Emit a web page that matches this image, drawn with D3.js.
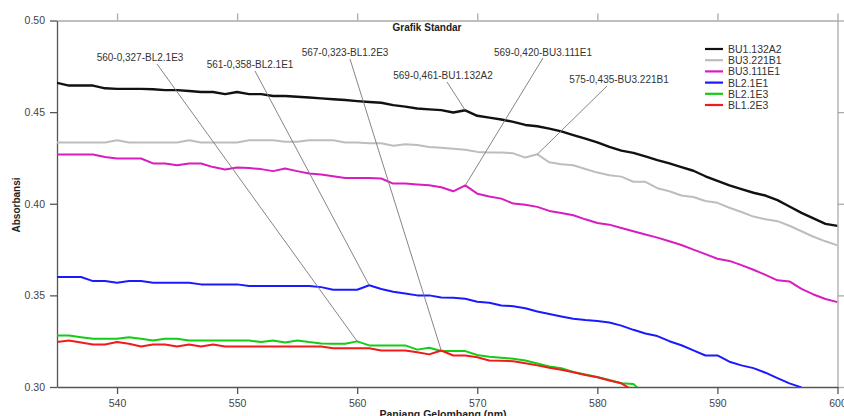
<!DOCTYPE html>
<html>
<head>
<meta charset="utf-8">
<script src="https://cdn.jsdelivr.net/npm/d3@7"></script>
<style>
  body { margin: 0; background: #fff; }
  svg { font-family: "Liberation Sans", Arial, sans-serif; }
</style>
</head>
<body>
<svg width="844" height="416"></svg>
<script>
// wavelength (nm), one value per nm
var wavelengths = d3.range(535, 601);

var bu1_132A2 = [0.466, 0.4645, 0.4645, 0.4645, 0.463, 0.4627, 0.4627, 0.4627, 0.4625, 0.462,
  0.462, 0.4615, 0.461, 0.461, 0.4598, 0.461, 0.4598, 0.4598, 0.4588, 0.4588,
  0.4584, 0.458, 0.4575, 0.457, 0.4566, 0.456, 0.4555, 0.4551, 0.4538, 0.453,
  0.452, 0.4515, 0.4511, 0.4498, 0.451, 0.448, 0.447, 0.446, 0.4447, 0.443,
  0.4423, 0.441, 0.4395, 0.4375, 0.4355, 0.4335, 0.431, 0.429, 0.4278, 0.4258,
  0.4238, 0.422, 0.42, 0.418, 0.415, 0.4125, 0.41, 0.408, 0.406, 0.4045,
  0.402, 0.3985, 0.395, 0.392, 0.389, 0.3879];

var bu3_221B1 = [0.4334, 0.4334, 0.4334, 0.4334, 0.4334, 0.4347, 0.4334, 0.4334, 0.4334, 0.4334,
  0.4334, 0.4347, 0.4334, 0.4334, 0.4334, 0.4334, 0.4347, 0.4347, 0.4347, 0.4338,
  0.4338, 0.4347, 0.4347, 0.4347, 0.4334, 0.4334, 0.433, 0.433, 0.4316, 0.4325,
  0.432, 0.431, 0.4305, 0.43, 0.4295, 0.4283, 0.428, 0.428, 0.4275, 0.4252,
  0.427, 0.4226, 0.4215, 0.421, 0.419, 0.417, 0.4155, 0.4148, 0.412, 0.412,
  0.4085, 0.4068, 0.4045, 0.4037, 0.4015, 0.4005, 0.3978, 0.3955, 0.393, 0.3915,
  0.3905, 0.388, 0.385, 0.382, 0.3795, 0.3773];

var bu3_111E1 = [0.4269, 0.4269, 0.4269, 0.4269, 0.4255, 0.4247, 0.4247, 0.4247, 0.422, 0.422,
  0.421, 0.422, 0.422, 0.42, 0.4187, 0.4198, 0.4195, 0.4189, 0.4178, 0.4192,
  0.4178, 0.4165, 0.416, 0.415, 0.4141, 0.4141, 0.4141, 0.4138, 0.411, 0.411,
  0.4105, 0.4101, 0.409, 0.4068, 0.41, 0.4055, 0.404, 0.4028, 0.4001, 0.3995,
  0.3983, 0.3961, 0.395, 0.3937, 0.3915, 0.3895, 0.3886, 0.3868, 0.385, 0.3832,
  0.3815, 0.3795, 0.3775, 0.375, 0.3725, 0.37, 0.3688, 0.3665, 0.364, 0.3612,
  0.3582, 0.3576, 0.3535, 0.3505, 0.348, 0.3463];

var bl2_1E1 = [0.36, 0.36, 0.36, 0.3578, 0.3578, 0.3569, 0.3578, 0.3578, 0.3569, 0.3569,
  0.3569, 0.3569, 0.356, 0.356, 0.356, 0.356, 0.3551, 0.3551, 0.3551, 0.3551,
  0.3551, 0.3551, 0.3545, 0.3531, 0.3531, 0.3531, 0.3555, 0.3535, 0.352, 0.351,
  0.35, 0.35, 0.3488, 0.3487, 0.3482, 0.3465, 0.346, 0.3445, 0.3441, 0.343,
  0.3412, 0.3398, 0.3385, 0.3372, 0.3365, 0.336, 0.3352, 0.3335, 0.3312, 0.3292,
  0.3278, 0.325, 0.3228, 0.32, 0.3172, 0.3172, 0.3138, 0.3118, 0.3103, 0.3078,
  0.3048, 0.302, 0.2998];

var bl2_1E3 = [0.3281, 0.3281, 0.3272, 0.3263, 0.3263, 0.3263, 0.3272, 0.3263, 0.3254, 0.3263,
  0.3263, 0.3254, 0.3254, 0.3254, 0.3254, 0.3254, 0.3254, 0.3245, 0.3254, 0.3243,
  0.3254, 0.3245, 0.3238, 0.3236, 0.3236, 0.3249, 0.3227, 0.3227, 0.3227, 0.3227,
  0.3204, 0.3214, 0.3196, 0.3196, 0.3196, 0.3175, 0.3165, 0.316, 0.3154, 0.3145,
  0.3128, 0.3112, 0.3103, 0.3082, 0.3068, 0.3055, 0.3038, 0.302, 0.3017, 0.2955];

var bl1_2E3 = [0.3245, 0.3254, 0.3243, 0.3232, 0.3232, 0.3245, 0.3236, 0.3221, 0.3232, 0.3232,
  0.3221, 0.3232, 0.3221, 0.3232, 0.3221, 0.3221, 0.3221, 0.3221, 0.3221, 0.3221,
  0.3221, 0.3221, 0.3221, 0.3212, 0.3212, 0.3212, 0.3212, 0.3199, 0.3199, 0.3199,
  0.319, 0.3178, 0.3199, 0.3172, 0.3172, 0.3162, 0.3145, 0.3143, 0.3141, 0.313,
  0.3118, 0.3105, 0.3094, 0.308, 0.3065, 0.3053, 0.3035, 0.302, 0.298];

var seriesNames = ["BU1.132A2", "BU3.221B1", "BU3.111E1", "BL2.1E1", "BL2.1E3", "BL1.2E3"];
var seriesValues = [bu1_132A2, bu3_221B1, bu3_111E1, bl2_1E1, bl2_1E3, bl1_2E3];
var seriesColors = ["#111111", "#bdbdbd", "#d91cc0", "#1a1aff", "#14cc14", "#f21a1a"];

var xTicks = [540, 550, 560, 570, 580, 590, 600];
var yTicks = [0.30, 0.35, 0.40, 0.45, 0.50];

// peak labels: text, series index, wavelength
var annoText = ["560-0,327-BL2.1E3", "561-0,358-BL2.1E1", "567-0,323-BL1.2E3",
  "569-0,461-BU1.132A2", "569-0,420-BU3.111E1", "575-0,435-BU3.221B1"];
var annoSeries = [4, 3, 5, 0, 2, 1];
var annoWave = [560, 561, 567, 569, 569, 575];
// where each label sits (text centre, baseline) and where its leader starts
var annoPos = [[140, 61, 157, 64], [250, 68, 255, 71], [345, 56, 350, 59],
  [443, 79, 447, 82], [543, 56, 543, 58], [619, 83, 607, 86]];

var svg = d3.select("svg");
var x = d3.scaleLinear().domain([535, 600]).range([57, 837.5]);
var y = d3.scaleLinear().domain([0.30, 0.50]).range([387, 20.5]);

svg.append("defs").append("clipPath").attr("id", "plot")
  .append("rect")
  .attr("x", x(535)).attr("y", y(0.5))
  .attr("width", x(600) - x(535)).attr("height", y(0.3) - y(0.5));

// axes
function styleAxis(g, col) {
  g.select(".domain").attr("stroke", col).attr("stroke-width", 1.3);
  g.selectAll(".tick line").attr("stroke", col).attr("stroke-width", 1.3);
  g.selectAll(".tick text").attr("fill", "#444").attr("font-size", "10.5px")
    .attr("font-family", "Liberation Sans, Arial, sans-serif");
}

svg.append("g").attr("transform", "translate(0," + y(0.5) + ")")
  .call(d3.axisTop(x).tickValues(xTicks).tickSize(7).tickSizeOuter(0).tickFormat(""))
  .call(styleAxis, "#aaa");
svg.append("g").attr("transform", "translate(" + x(600) + ",0)")
  .call(d3.axisRight(y).tickValues(yTicks).tickSize(7).tickSizeOuter(0).tickFormat(""))
  .call(styleAxis, "#aaa");
svg.append("g").attr("transform", "translate(0," + y(0.3) + ")")
  .call(d3.axisBottom(x).tickValues(xTicks).tickSize(7).tickSizeOuter(0).tickPadding(6))
  .call(styleAxis, "#555");
svg.append("g").attr("transform", "translate(" + x(535) + ",0)")
  .call(d3.axisLeft(y).tickValues(yTicks).tickSize(7).tickSizeOuter(0).tickPadding(5).tickFormat(d3.format(".2f")))
  .call(styleAxis, "#555");

// lines
var line = d3.line()
  .x(function(d, i) { return x(wavelengths[i]); })
  .y(function(d) { return y(d); });

svg.append("g").attr("clip-path", "url(#plot)")
  .selectAll("path")
  .data(seriesValues)
  .enter().append("path")
  .attr("d", line)
  .attr("fill", "none")
  .attr("stroke", function(d, i) { return seriesColors[i]; })
  .attr("stroke-width", function(d, i) { return i == 0 ? 2.4 : 2; })
  .attr("stroke-linejoin", "round");

// leader lines + labels
var anno = svg.append("g").selectAll("g")
  .data(annoText)
  .enter().append("g");

anno.append("line")
  .attr("x1", function(d, i) { return annoPos[i][2]; })
  .attr("y1", function(d, i) { return annoPos[i][3]; })
  .attr("x2", function(d, i) { return x(annoWave[i]); })
  .attr("y2", function(d, i) { return y(seriesValues[annoSeries[i]][annoWave[i] - 535]); })
  .attr("stroke", "#777")
  .attr("stroke-width", 0.9);

anno.append("text")
  .attr("x", function(d, i) { return annoPos[i][0]; })
  .attr("y", function(d, i) { return annoPos[i][1]; })
  .attr("text-anchor", "middle")
  .attr("font-size", "10px")
  .attr("fill", "#333")
  .text(function(d) { return d; });

// legend
var legend = svg.append("g").selectAll("g")
  .data(seriesNames)
  .enter().append("g")
  .attr("transform", function(d, i) { return "translate(705," + (49 + i * 11.2) + ")"; });

legend.append("line")
  .attr("x1", 0).attr("x2", 18)
  .attr("stroke", function(d, i) { return seriesColors[i]; })
  .attr("stroke-width", 2.2);

legend.append("text")
  .attr("x", 23).attr("y", 4)
  .attr("font-size", "10.5px")
  .attr("fill", "#333")
  .text(function(d) { return d; });

// titles
svg.append("text")
  .attr("x", 427).attr("y", 31)
  .attr("text-anchor", "middle")
  .attr("font-size", "10px").attr("font-weight", "bold")
  .attr("fill", "#222")
  .text("Grafik Standar");

svg.append("text")
  .attr("transform", "translate(20,205) rotate(-90)")
  .attr("text-anchor", "middle")
  .attr("font-size", "10px").attr("font-weight", "bold")
  .attr("fill", "#222")
  .text("Absorbansi");

svg.append("text")
  .attr("x", 443).attr("y", 418)
  .attr("text-anchor", "middle")
  .attr("font-size", "10.5px").attr("font-weight", "bold")
  .attr("fill", "#222")
  .text("Panjang Gelombang (nm)");
</script>
</body>
</html>
